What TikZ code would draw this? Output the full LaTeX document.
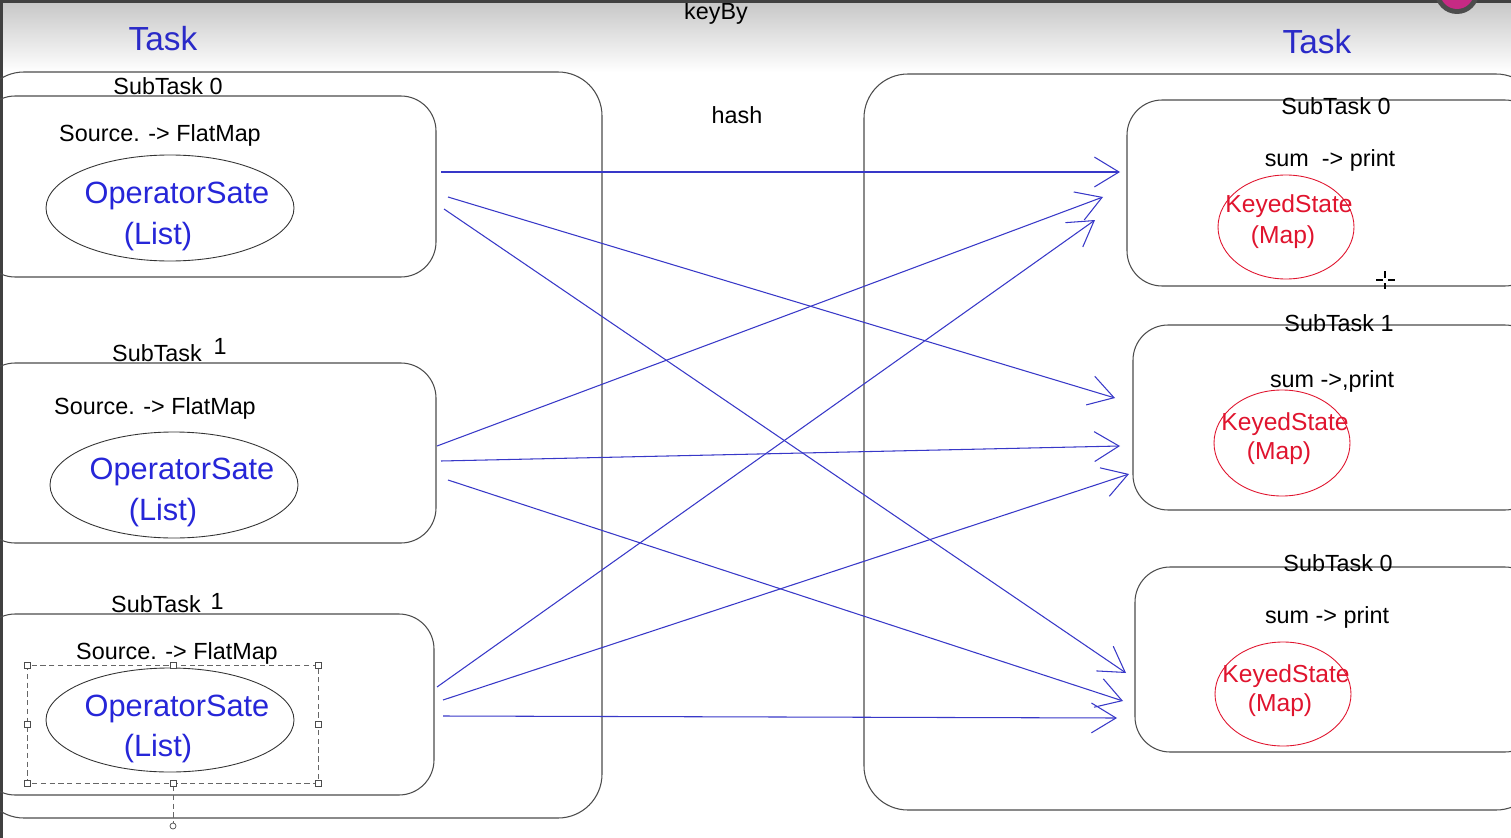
\documentclass[tikz,border=0pt]{standalone}
\usepackage{fontspec}
\setmainfont{Liberation Sans}
\usetikzlibrary{arrows.meta}
\definecolor{tblue}{HTML}{2A2AC8}
\definecolor{oblue}{HTML}{2626D8}
\definecolor{kred}{HTML}{E0142E}
\definecolor{fblue}{HTML}{3838C8}

\begin{document}
\begin{tikzpicture}[x=0.02cm,y=-0.02cm,
  box/.style={draw=black!70,line width=0.6pt,rounded corners=20},
  lbl/.style={inner sep=0pt,font=\fontsize{13.3}{15}\selectfont},
  ttl/.style={inner sep=0pt,text=tblue,font=\fontsize{19}{22}\selectfont},
  opst/.style={inner sep=0pt,text=oblue,font=\fontsize{17.5}{20}\selectfont},
  kyst/.style={inner sep=0pt,text=kred,font=\fontsize{14}{17}\selectfont},
  flow/.style={draw=fblue,line width=0.6pt,-{Straight Barb[length=14pt,width=17pt]}}]
\clip (0,0) rectangle (1511,838);
\fill[white] (0,0) rectangle (1511,838);
\shade[top color=gray!45,bottom color=white] (0,0) rectangle (1511,72);
\node[lbl,anchor=base] (keyby) at (716,20) {keyBy};
\fill[black!75] (0,0) rectangle (1511,3);
\fill[black!75] (0,0) rectangle (3,838);
\fill[black!70] (1457,-8) circle (22);
\fill[magenta!80!black] (1457,-8) circle (17);

\node[ttl] (taskL) at (163,39) {Task};
\node[ttl] (taskR) at (1317,42) {Task};
\node[lbl] (hash) at (737,115) {hash};

\draw[box,rounded corners=25] (-20,72) rectangle (602,818);
\draw[box] (-20,96) rectangle (436,277);
\draw[box] (-20,363) rectangle (436,543);
\draw[box] (-20,614) rectangle (434,795);

\draw[box,rounded corners=25] (864,74) rectangle (1540,810);
\draw[box] (1127,100) rectangle (1540,286);
\draw[box] (1133,325) rectangle (1540,510);
\draw[box] (1135,567) rectangle (1540,752);

\node[lbl] (subL0) at (168,86) {SubTask 0};
\node[lbl] (subL1) at (157,353) {SubTask};
\node[lbl] (subL1n) at (220,346) {1};
\node[lbl] (subL2) at (156,604) {SubTask};
\node[lbl,fill=white,inner xsep=6pt] (subL2n) at (217,601) {1};

\node[lbl] (srcL0) at (160,135) {Source. -> FlatMap};
\node[lbl] (srcL1) at (155,408) {Source. -> FlatMap};
\node[lbl] (srcL2) at (177,653) {Source. -> FlatMap};

\draw[black!80,line width=0.5pt] (170,208) ellipse [x radius=124,y radius=53];
\draw[black!80,line width=0.5pt] (174,485) ellipse [x radius=124,y radius=53];
\draw[black!80,line width=0.5pt] (170,720) ellipse [x radius=124,y radius=52];
\node[opst] (opL0) at (177,196) {OperatorSate};
\node[opst] (lsL0) at (158,237) {(List)};
\node[opst] (opL1) at (182,472) {OperatorSate};
\node[opst] (lsL1) at (163,513) {(List)};
\node[opst] (opL2) at (177,709) {OperatorSate};
\node[opst] (lsL2) at (158,749) {(List)};

\draw[black!60,line width=0.5pt,dash pattern=on 3pt off 2pt] (27,665) rectangle (318,783);
\draw[black!60,line width=0.5pt,dash pattern=on 3pt off 2pt] (173,786) -- (173,823);
\foreach \hx/\hy in {27/665,173/665,318/665,27/724,318/724,27/783,173/783,318/783}{
  \draw[black!70,line width=0.4pt,fill=white] (\hx-3,\hy-3) rectangle (\hx+3,\hy+3);
}
\draw[black!70,line width=0.4pt,fill=white] (173,826) circle (3);

\node[lbl] (subR0) at (1336,106) {SubTask 0};
\node[lbl] (subR1) at (1339,323) {SubTask 1};
\node[lbl] (subR2) at (1338,563) {SubTask 0};
\node[lbl] (sumR0) at (1330,160) {sum ~-> print};
\node[lbl] (sumR1) at (1332,381) {sum ->,print};
\node[lbl] (sumR2) at (1327,617) {sum -> print};

\draw[kred,line width=0.5pt] (1286,227) ellipse [x radius=68,y radius=52];
\draw[kred,line width=0.5pt] (1282,443) ellipse [x radius=68,y radius=53];
\draw[kred,line width=0.5pt] (1283,694) ellipse [x radius=68,y radius=52];
\node[kyst] (kyR0) at (1289,206) {KeyedState};
\node[kyst] (mpR0) at (1283,237) {(Map)};
\node[kyst] (kyR1) at (1285,424) {KeyedState};
\node[kyst] (mpR1) at (1279,453) {(Map)};
\node[kyst] (kyR2) at (1286,676) {KeyedState};
\node[kyst] (mpR2) at (1280,705) {(Map)};

\draw[black,line width=0.7pt] (1376,280) -- (1383,280) (1388,280) -- (1395,280)
  (1385,271) -- (1385,278) (1385,283) -- (1385,289);

\coordinate (l0a) at (441,172);
\coordinate (l0b) at (448,197);
\coordinate (l0c) at (444,209);
\coordinate (l1a) at (437,446);
\coordinate (l1b) at (441,461);
\coordinate (l1c) at (448,480);
\coordinate (l2a) at (437,687);
\coordinate (l2b) at (443,700);
\coordinate (l2c) at (443,716);
\coordinate (r0a) at (1120,172);
\coordinate (r0b) at (1103,197);
\coordinate (r0c) at (1095,220);
\coordinate (r1a) at (1115,398);
\coordinate (r1b) at (1120,446);
\coordinate (r1c) at (1129,474);
\coordinate (r2a) at (1126,673);
\coordinate (r2b) at (1123,701);
\coordinate (r2c) at (1117,718);
\foreach \a/\b in {l0a/r0a,l0b/r1a,l0c/r2a,l1a/r0b,l1b/r1b,l1c/r2b,l2a/r0c,l2b/r1c,l2c/r2c}{
  \draw[flow] (\a) -- (\b);
}
\end{tikzpicture}
\end{document}
